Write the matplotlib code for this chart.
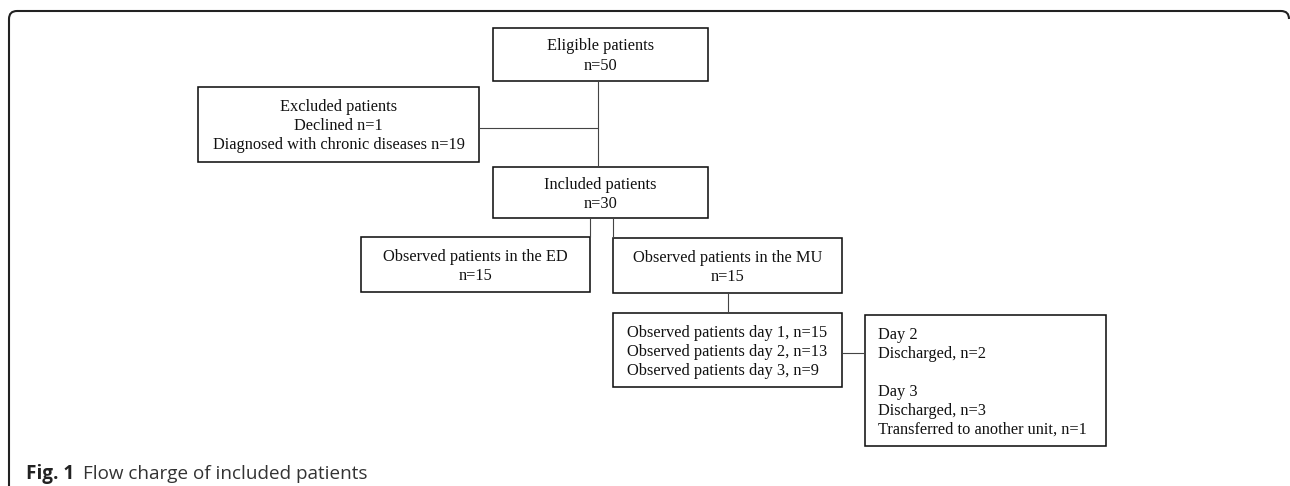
import matplotlib.pyplot as plt
from matplotlib.patches import Rectangle
from matplotlib.path import Path
from matplotlib.patches import PathPatch

# box contents
eligible = ["Eligible patients", "n=50"]
excluded = ["Excluded patients", "Declined n=1", "Diagnosed with chronic diseases n=19"]
included = ["Included patients", "n=30"]
obs_ed = ["Observed patients in the ED", "n=15"]
obs_mu = ["Observed patients in the MU", "n=15"]
obs_days = ["Observed patients day 1, n=15",
            "Observed patients day 2, n=13",
            "Observed patients day 3, n=9"]
outcomes = ["Day 2", "Discharged, n=2", "", "Day 3", "Discharged, n=3",
            "Transferred to another unit, n=1"]
caption_bold = "Fig. 1"
caption = "Flow charge of included patients"

SERIF = "Liberation Serif"
FS = 11.8
LINE = 19

fig = plt.figure(figsize=(12.9, 4.86), dpi=100)
ax = fig.add_axes([0, 0, 1, 1])
ax.set_xlim(0, 1290)
ax.set_ylim(486, 0)
ax.axis("off")


def box(x0, y0, x1, y1, lines, align="center", tx=None):
    ax.add_patch(Rectangle((x0, y0), x1 - x0, y1 - y0, fill=False,
                           edgecolor="#111111", lw=1.15))
    n = len(lines)
    # baselines sit a little below the box middle
    ty = (y0 + y1) / 2 + 5.5 - (n - 1) * LINE / 2
    if tx is None:
        tx = (x0 + x1) / 2
    for i, s in enumerate(lines):
        ax.text(tx, ty + i * LINE, s, ha=align, va="baseline",
                family=SERIF, fontsize=FS, color="#111111")


def line(xs, ys):
    ax.plot(xs, ys, color="#444444", lw=0.8, solid_capstyle="butt")


box(493, 28, 708, 81, eligible)
box(198, 87, 479, 162, excluded)
box(493, 167, 708, 218, included)
box(361, 237, 590, 292, obs_ed)
box(613, 238, 842, 293, obs_mu)
box(613, 313, 842, 387, obs_days, align="left", tx=627)
box(865, 315, 1106, 446, outcomes, align="left", tx=878)

# connectors
line([598, 598], [81, 167])
line([479, 598], [128, 128])
line([590, 590], [218, 237])
line([613, 613], [218, 238])
line([728, 728], [293, 313])
line([842, 865], [353, 353])

# outer frame, open at the bottom
r = 8
verts = [(9, 486), (9, 11 + r), (9, 11), (9 + r, 11),
         (1289 - r, 11), (1289, 11), (1289, 11 + r)]
codes = [Path.MOVETO, Path.LINETO, Path.CURVE3, Path.CURVE3,
         Path.LINETO, Path.CURVE3, Path.CURVE3]
ax.add_patch(PathPatch(Path(verts, codes), fill=False,
                       edgecolor="#222222", lw=1.5))

ax.text(26, 479, caption_bold, ha="left", va="baseline", family="Open Sans",
        fontweight="bold", fontsize=13.6, color="#222222")
ax.text(83, 479, caption, ha="left", va="baseline", family="Open Sans",
        fontsize=13.6, color="#333333")

fig.savefig("out.png", dpi=100)
